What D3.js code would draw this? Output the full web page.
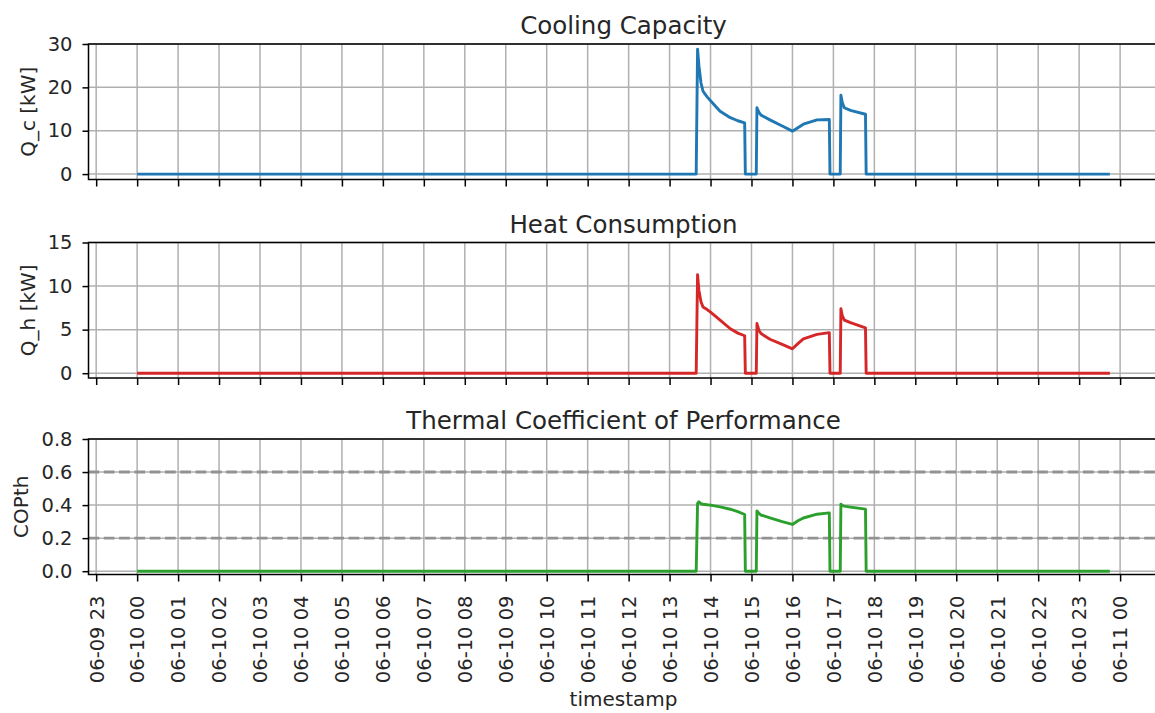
<!DOCTYPE html>
<html>
<head>
<meta charset="utf-8">
<script src="https://cdn.jsdelivr.net/npm/d3@7"></script>
<style>
	body { margin: 0; background: #fff; }
	svg, svg text { font-family: 'DejaVu Sans', sans-serif; }
	.grid line { stroke: #b0b0b0; stroke-width: 1.5; }
	.axis path { display: none; }
	.axis line { stroke: #000; stroke-width: 1.5; }
	.axis text { font-family: 'DejaVu Sans', sans-serif; font-size: 19.5px; fill: #262626; }
	.frame { fill: none; stroke: #000; stroke-width: 1.5; }
	.label { font-size: 20px; fill: #262626; }
	.title { font-size: 24.5px; fill: #262626; }
</style>
</head>
<body>
<svg id="chart" width="1155" height="713"></svg>
<script>
// samples of 06-10
const day = '2021-06-10'
const times = ['00:00', '13:39', '13:41', '13:43', '13:46', '13:49', '13:55', '14:00', '14:14', '14:29', '14:40', '14:50', '14:51',
	'15:07', '15:08', '15:11', '15:14', '15:27', '15:45', '16:00', '16:08', '16:16', '16:36', '16:54', '16:55',
	'17:10', '17:11', '17:13', '17:16', '17:25', '17:47', '17:48', '23:45']
const coolingCapacity = [0, 0, 28.8, 25, 21, 19.1, 17.8, 16.9, 14.5, 13.0, 12.3, 11.8, 0,
	0, 15.3, 14.2, 13.6, 12.5, 11.1, 9.9, 10.7, 11.5, 12.5, 12.6, 0,
	0, 18.2, 16.5, 15.3, 14.7, 13.8, 0, 0]
const heatConsumption = [0, 0, 11.3, 9.5, 8.2, 7.6, 7.3, 7.0, 6.1, 5.1, 4.6, 4.3, 0,
	0, 5.7, 4.9, 4.55, 3.9, 3.3, 2.8, 3.4, 3.95, 4.45, 4.65, 0,
	0, 7.4, 6.6, 6.1, 5.8, 5.2, 0, 0]
const copTh = [0, 0, 0.41, 0.42, 0.408, 0.405, 0.402, 0.40, 0.389, 0.375, 0.36, 0.343, 0,
	0, 0.364, 0.35, 0.34, 0.323, 0.30, 0.283, 0.305, 0.322, 0.345, 0.353, 0,
	0, 0.406, 0.398, 0.394, 0.388, 0.376, 0, 0]
const copLimits = [0.2, 0.6]

const titles = ['Cooling Capacity', 'Heat Consumption', 'Thermal Coefficient of Performance']
const yLabels = ['Q_c [kW]', 'Q_h [kW]', 'COPth']
const yTicks = [[0, 10, 20, 30], [0, 5, 10, 15], [0, 0.2, 0.4, 0.6, 0.8]]
const yLimits = [[-1.25, 30], [-0.55, 15], [-0.02, 0.8]]
const series = [coolingCapacity, heatConsumption, copTh]

const svg = d3.select('#chart')
const left = 88.5
const plotW = 1070
const plotH = 135.5
const tops = [44, 242.5, 439]
const colors = ['#1f77b4', '#d62728', '#2ca02c']
const yFormats = [d3.format('d'), d3.format('d'), d3.format('.1f')]

const parse = d3.timeParse('%Y-%m-%d %H:%M')
const dates = times.map((t) => parse(`${day} ${t}`))
const [t0, t1] = d3.extent(dates)
const pad = (t1 - t0) * 0.05
const x = d3.scaleTime()
	.domain([new Date(+t0 - pad), new Date(+t1 + pad)])
	.range([left, left + plotW])
const hourTicks = d3.timeHour.range(parse('2021-06-09 23:00'), parse('2021-06-11 00:01'))
const fmtHour = d3.timeFormat('%m-%d %H')

series.forEach((values, i) => {
	const top = tops[i]
	const g = svg.append('g')
	const y = d3.scaleLinear().domain(yLimits[i]).range([top + plotH, top])
	const grid = g.append('g').classed('grid', true)

	grid.selectAll('line.v').data(hourTicks).join('line')
		.attr('x1', x).attr('x2', x)
		.attr('y1', top).attr('y2', top + plotH)
	grid.selectAll('line.h').data(yTicks[i]).join('line')
		.attr('x1', left).attr('x2', left + plotW)
		.attr('y1', y).attr('y2', y)

	if (i === 2) {
		g.append('g').selectAll('line').data(copLimits).join('line')
			.attr('x1', left).attr('x2', left + plotW)
			.attr('y1', y).attr('y2', y)
			.style('stroke', '#929292')
			.style('stroke-width', 2.9)
			.style('stroke-dasharray', '10.7 4.6')
	}

	const line = d3.line()
		.x((d, k) => x(dates[k]))
		.y((d) => y(d))
	g.append('path')
		.datum(values)
		.attr('d', line)
		.style('fill', 'none')
		.style('stroke', colors[i])
		.style('stroke-width', 2.9)
		.style('stroke-linejoin', 'round')

	g.append('rect').classed('frame', true)
		.attr('x', left).attr('y', top)
		.attr('width', plotW).attr('height', plotH)

	const yAxis = g.append('g').classed('axis', true)
		.attr('transform', `translate(${left},0)`)
		.call(d3.axisLeft(y).tickValues(yTicks[i]).tickSize(6).tickPadding(10).tickFormat(yFormats[i]))

	const xAxis = g.append('g').classed('axis', true)
		.attr('transform', `translate(0,${top + plotH})`)
		.call(d3.axisBottom(x).tickValues(hourTicks).tickSize(7).tickFormat(i === 2 ? fmtHour : () => ''))
	xAxis.selectAll('text')
		.attr('transform', 'rotate(-90)')
		.attr('text-anchor', 'end')
		.attr('x', -21)
		.attr('y', 0)
		.attr('dy', '0.35em')

	// ylabel sits a fixed gap left of the widest tick label
	const widest = d3.max(yAxis.selectAll('text').nodes(), (n) => n.getComputedTextLength()) || 25
	const lx = left - 16 - widest - 13
	g.append('text').classed('label', true)
		.attr('transform', `translate(${lx},${top + plotH / 2}) rotate(-90)`)
		.attr('text-anchor', 'middle')
		.text(yLabels[i])

	g.append('text').classed('title', true)
		.attr('x', left + plotW / 2)
		.attr('y', top - 10)
		.attr('text-anchor', 'middle')
		.text(titles[i])
})

svg.append('text').classed('label', true)
	.attr('x', left + plotW / 2)
	.attr('y', 706)
	.attr('text-anchor', 'middle')
	.text('timestamp')
</script>
</body>
</html>
